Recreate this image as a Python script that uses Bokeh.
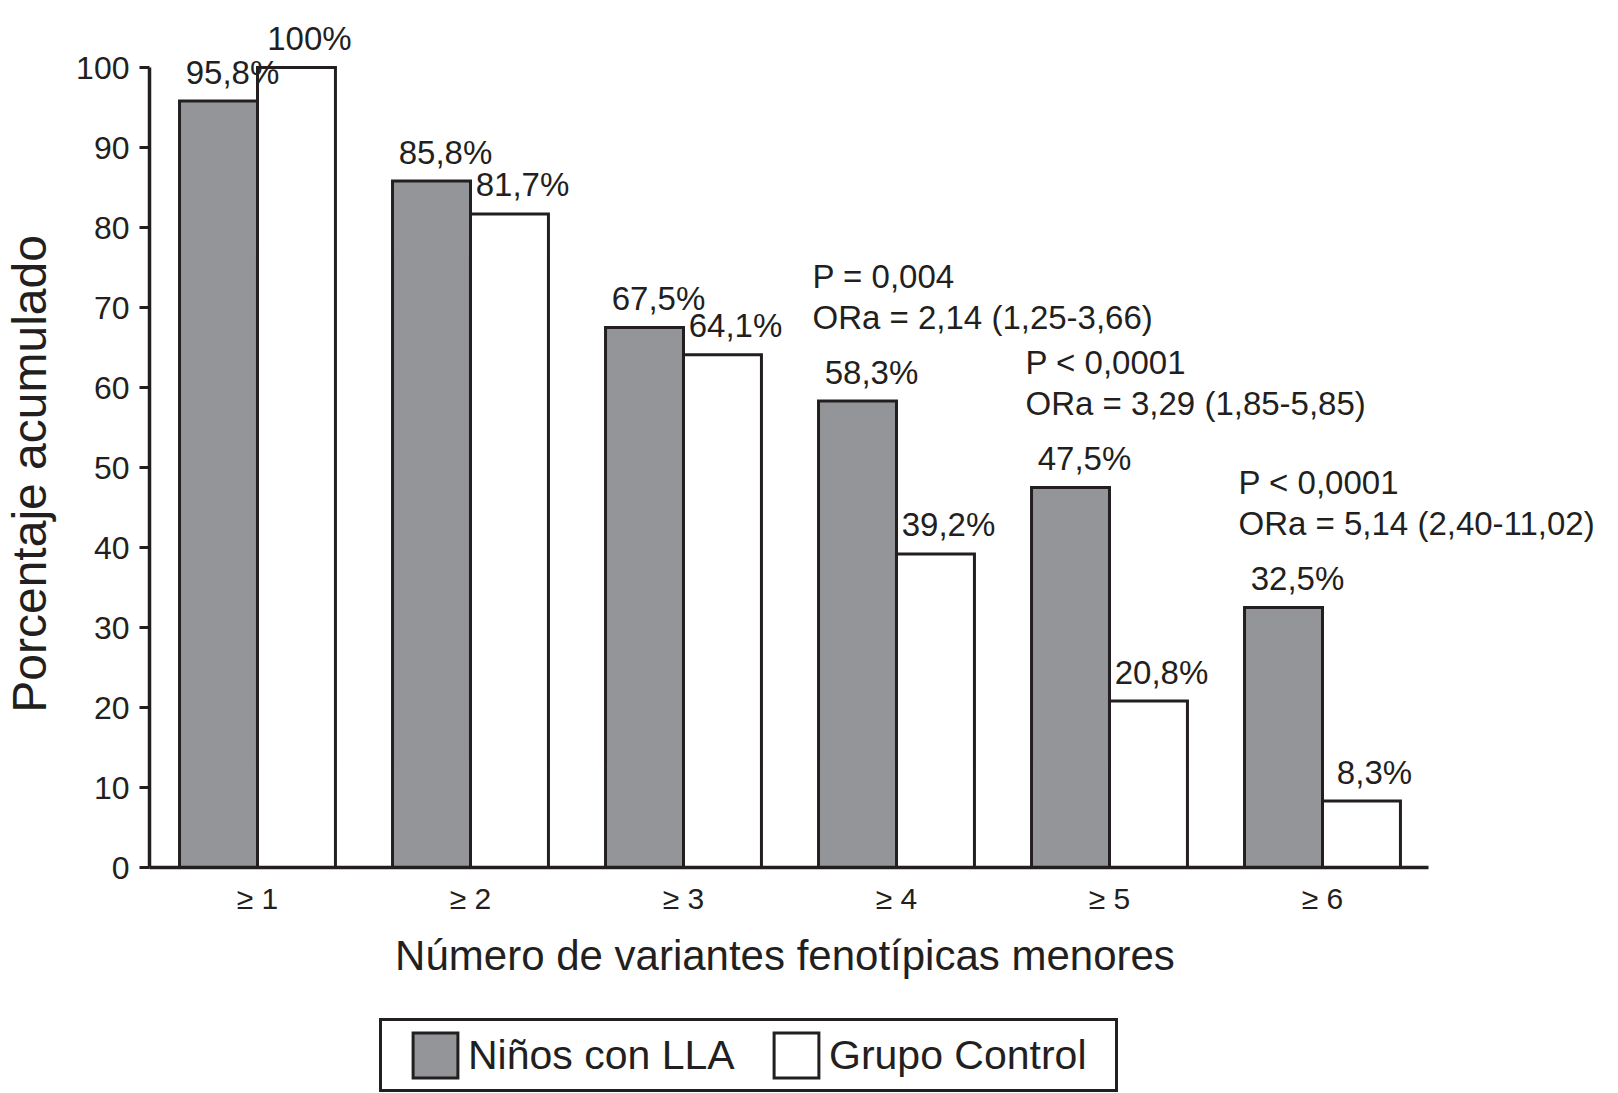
import math
from bokeh.plotting import figure
from bokeh.layouts import column, row
from bokeh.models import (Range1d, FixedTicker, Legend, LegendItem, ColumnDataSource, Label)
from bokeh.transform import dodge
from bokeh.core.properties import value
from bokeh.embed import file_html
from bokeh.resources import INLINE

# ---- data ----
categories = [1, 2, 3, 4, 5, 6]
tick_labels = ["≥ 1", "≥ 2", "≥ 3", "≥ 4", "≥ 5", "≥ 6"]
nino_lla = [95.8, 85.8, 67.5, 58.3, 47.5, 32.5]
grupo_control = [100, 81.7, 64.1, 39.2, 20.8, 8.3]
y_ticks = [0, 10, 20, 30, 40, 50, 60, 70, 80, 90, 100]
stat_groups = [4, 5, 6]
stat_p = ["P = 0,004", "P < 0,0001", "P < 0,0001"]
stat_or = ["ORa = 2,14 (1,25-3,66)", "ORa = 3,29 (1,85-5,85)", "ORa = 5,14 (2,40-11,02)"]
x_title = "Número de variantes fenotípicas menores"
y_title = "Porcentaje acumulado"
series_names = ["Niños con LLA", "Grupo Control"]


def pct(v):
    return f"{v:g}".replace(".", ",") + "%"


FONT = "Liberation Sans"
INK = "#231f20"
GRAY = "#939598"
BW = 0.366
LEFT_W = 72          # strip holding the y-axis title
MAIN_W = 1538        # main chart width (frame left edge at x = 149 on the page)
TOP_H = 927
BOT_H = 166

src = ColumnDataSource(dict(
    x=categories, lla=nino_lla, ctrl=grupo_control,
    lla_lbl=[pct(v) for v in nino_lla], ctrl_lbl=[pct(v) for v in grupo_control],
))
stat_src = ColumnDataSource(dict(
    x=stat_groups, y=[nino_lla[categories.index(g)] for g in stat_groups],
    p=stat_p, o=stat_or,
))

xr = Range1d(0.493, 0.493 + 1461 / 213.0)
yr = Range1d(0, 100 + 67 / 8.0)

# ---------------- main chart ----------------
p = figure(width=MAIN_W, height=TOP_H, title=None, output_backend="svg", toolbar_location=None,
           x_range=xr, y_range=yr,
           min_border_left=77, min_border_right=0, min_border_top=0, min_border_bottom=60)
p.outline_line_color = None
p.xgrid.grid_line_color = None
p.ygrid.grid_line_color = None

bar_style = dict(line_color=INK, line_width=3, line_join="miter")
r1 = p.vbar(x=dodge("x", -BW / 2), top="lla", width=BW, bottom=0, source=src,
            fill_color=GRAY, **bar_style)
r2 = p.vbar(x=dodge("x", BW / 2), top="ctrl", width=BW, bottom=0, source=src,
            fill_color="white", **bar_style)

txt = dict(text_font=value(FONT), text_font_size="33px", text_color=INK,
           text_baseline="alphabetic")
p.text(x=dodge("x", -BW / 2), y="lla", text="lla_lbl", source=src,
       x_offset=14, y_offset=-29, text_align="center", **txt)
p.text(x=dodge("x", BW / 2), y="ctrl", text="ctrl_lbl", source=src,
       x_offset=13, y_offset=-29, text_align="center", **txt)
p.text(x=dodge("x", -BW), y="y", text="o", source=stat_src,
       x_offset=-6, y_offset=-84, text_align="left", **txt)
p.text(x=dodge("x", -BW), y="y", text="p", source=stat_src,
       x_offset=-6, y_offset=-125, text_align="left", **txt)

yax = p.yaxis[0]
yax.ticker = FixedTicker(ticks=y_ticks)
yax.bounds = (0, 100)
yax.axis_line_width = 3.5
yax.axis_line_color = INK
yax.major_tick_line_width = 3
yax.major_tick_line_color = INK
yax.major_tick_out = 10
yax.major_tick_in = 0
yax.minor_tick_out = 0
yax.minor_tick_in = 0
yax.major_label_standoff = 10
yax.major_label_text_font = FONT
yax.major_label_text_font_size = "32px"
yax.major_label_text_color = INK

xax = p.xaxis[0]
xax.ticker = FixedTicker(ticks=categories)
xax.major_label_overrides = {c: t for c, t in zip(categories, tick_labels)}
xax.bounds = (0.493, 6.5)
xax.axis_line_width = 3.5
xax.axis_line_color = INK
xax.major_tick_out = 0
xax.major_tick_in = 0
xax.minor_tick_out = 0
xax.minor_tick_in = 0
xax.major_label_standoff = 14
xax.major_label_text_font = FONT
xax.major_label_text_font_size = "30px"
xax.major_label_text_color = INK

# ---------------- left strip: y-axis title ----------------
ly = figure(width=LEFT_W, height=TOP_H, title=None, output_backend="svg", toolbar_location=None,
            x_range=Range1d(0, LEFT_W), y_range=yr, x_axis_type=None, y_axis_type=None,
            min_border_left=0, min_border_right=0, min_border_top=0, min_border_bottom=60)
ly.outline_line_color = None
ly.add_layout(Label(x=29, y=49.2, angle=math.pi / 2, text=y_title,
                    text_align="center", text_baseline="middle",
                    text_font=FONT, text_font_size="48px", text_color=INK))

# ---------------- strip below: axis title + legend ----------------
q = figure(width=MAIN_W, height=BOT_H, title=None, output_backend="svg", toolbar_location=None,
           x_range=xr, y_range=Range1d(0, BOT_H), x_axis_type=None, y_axis_type=None,
           min_border_left=77, min_border_right=0, min_border_top=0, min_border_bottom=0)
q.outline_line_color = None
q.extra_y_ranges = {"off": Range1d(1000, 2000)}

q.add_layout(Label(x=(0.493 + 6.5) / 2 - 0.02, y=BOT_H - 28, text=x_title,
                   text_align="center", text_baseline="alphabetic",
                   text_font=FONT, text_font_size="42px", text_color=INK))

# hidden copies of the bars, only to carry the legend swatches
k1 = q.vbar(x=dodge("x", -BW / 2), top="lla", width=BW, bottom=0, source=src,
            fill_color=GRAY, y_range_name="off", visible=False, **bar_style)
k2 = q.vbar(x=dodge("x", BW / 2), top="ctrl", width=BW, bottom=0, source=src,
            fill_color="white", y_range_name="off", visible=False, **bar_style)

legend = Legend(
    items=[LegendItem(label=series_names[0], renderers=[k1]),
           LegendItem(label=series_names[1], renderers=[k2])],
    orientation="horizontal", location=(230, 1),
    title=" ", title_location="left", title_text_font_size="1px", title_standoff=18,
    glyph_width=56, glyph_height=56, label_standoff=5, spacing=20, label_width=280,
    padding=6, margin=0,
    label_text_font=FONT, label_text_font_size="41px", label_text_color=INK,
    border_line_color=INK, border_line_width=3, border_line_alpha=1,
    background_fill_color="white", background_fill_alpha=1,
)
q.add_layout(legend, "center")

layout = row(ly, column(p, q, spacing=0), spacing=0)
open("out.html", "w").write(file_html(layout, INLINE))
